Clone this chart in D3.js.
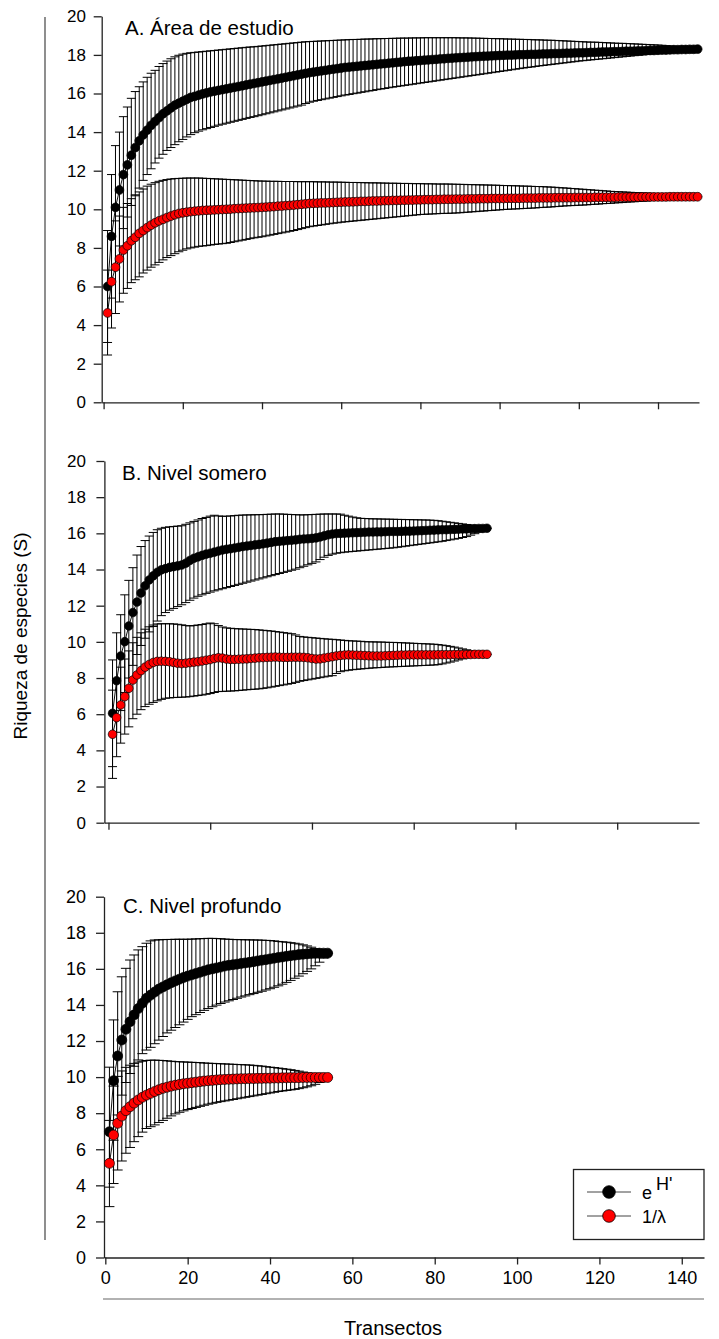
<!DOCTYPE html>
<html>
<head>
<meta charset="utf-8">
<script src="https://cdn.jsdelivr.net/npm/d3@7/dist/d3.min.js"></script>
<style>
  body { margin: 0; background: #fff; }
  text { font-family: "Liberation Sans", Arial, sans-serif; fill: #000; }
</style>
</head>
<body>
<svg id="chart" width="719" height="1339"></svg>
<script>
// ---- data (x = transect 1..n) ----
const titles = ['A. Área de estudio', 'B. Nivel somero', 'C. Nivel profundo'];
const legendLabels = ['e', '1/λ'];
const yTicks = [0, 2, 4, 6, 8, 10, 12, 14, 16, 18, 20];

// A. Área de estudio : e^H'
const areaEH = [6.0, 8.6, 10.1, 11.0, 11.8, 12.3, 12.8, 13.2, 13.55, 13.85,
  14.1, 14.35, 14.55, 14.75, 14.95, 15.1, 15.25, 15.4, 15.5, 15.6,
  15.7, 15.8, 15.85, 15.92, 15.98, 16.03, 16.08, 16.12, 16.16, 16.2,
  16.24, 16.28, 16.32, 16.36, 16.4, 16.44, 16.48, 16.52, 16.56, 16.6,
  16.64, 16.68, 16.72, 16.76, 16.8, 16.84, 16.88, 16.92, 16.96, 17.0,
  17.04, 17.08, 17.11, 17.14, 17.17, 17.2, 17.23, 17.26, 17.29, 17.32,
  17.35, 17.37, 17.39, 17.41, 17.43, 17.45, 17.47, 17.49, 17.51, 17.53,
  17.55, 17.57, 17.59, 17.61, 17.63, 17.65, 17.67, 17.68, 17.7, 17.71,
  17.73, 17.74, 17.76, 17.77, 17.79, 17.8, 17.82, 17.83, 17.85, 17.86,
  17.87, 17.88, 17.9, 17.91, 17.92, 17.93, 17.94, 17.95, 17.96, 17.97,
  17.98, 17.99, 17.99, 18.0, 18.01, 18.01, 18.02, 18.03, 18.03, 18.04,
  18.05, 18.05, 18.06, 18.07, 18.07, 18.08, 18.09, 18.09, 18.1, 18.11,
  18.11, 18.12, 18.13, 18.13, 18.14, 18.15, 18.15, 18.16, 18.17, 18.17,
  18.18, 18.19, 18.19, 18.2, 18.21, 18.21, 18.22, 18.23, 18.23, 18.24,
  18.25, 18.25, 18.26, 18.27, 18.27, 18.28, 18.28, 18.29, 18.29, 18.3];
const areaEHHi = [8.9, 11.8, 13.3, 14.0, 14.8, 15.3, 15.75, 16.1, 16.35, 16.6,
  16.84, 17.05, 17.2, 17.4, 17.55, 17.68, 17.8, 17.9, 17.98, 18.04,
  18.08, 18.11, 18.13, 18.15, 18.17, 18.19, 18.21, 18.23, 18.25, 18.27,
  18.29, 18.31, 18.33, 18.35, 18.37, 18.39, 18.41, 18.42, 18.44, 18.46,
  18.48, 18.5, 18.52, 18.54, 18.56, 18.58, 18.6, 18.62, 18.64, 18.66,
  18.68, 18.69, 18.7, 18.71, 18.72, 18.73, 18.74, 18.75, 18.76, 18.77,
  18.78, 18.79, 18.8, 18.8, 18.81, 18.82, 18.82, 18.83, 18.84, 18.84,
  18.85, 18.85, 18.86, 18.86, 18.87, 18.87, 18.87, 18.88, 18.88, 18.88,
  18.89, 18.89, 18.89, 18.89, 18.89, 18.89, 18.89, 18.89, 18.89, 18.88,
  18.88, 18.88, 18.87, 18.87, 18.86, 18.86, 18.85, 18.85, 18.84, 18.84,
  18.83, 18.82, 18.82, 18.81, 18.81, 18.8, 18.8, 18.79, 18.78, 18.78,
  18.77, 18.76, 18.76, 18.75, 18.74, 18.73, 18.72, 18.71, 18.7, 18.69,
  18.68, 18.67, 18.66, 18.66, 18.65, 18.64, 18.63, 18.62, 18.61, 18.6,
  18.6, 18.59, 18.58, 18.57, 18.56, 18.55, 18.54, 18.53, 18.52, 18.51,
  18.5, 18.48, 18.46, 18.44, 18.42, 18.4, 18.38, 18.35, 18.33, 18.3];
const areaEHLo = [3.1, 5.4, 6.9, 8.1, 9.0, 9.6, 10.2, 10.7, 11.1, 11.5,
  11.8, 12.1, 12.4, 12.65, 12.85, 13.05, 13.2, 13.35, 13.5, 13.62,
  13.75, 13.87, 13.97, 14.05, 14.12, 14.18, 14.24, 14.3, 14.36, 14.41,
  14.46, 14.51, 14.56, 14.61, 14.66, 14.71, 14.76, 14.8, 14.85, 14.9,
  14.95, 15.0, 15.05, 15.1, 15.15, 15.2, 15.25, 15.3, 15.35, 15.4,
  15.48, 15.55, 15.6, 15.64, 15.68, 15.72, 15.76, 15.8, 15.84, 15.88,
  15.92, 15.95, 15.99, 16.02, 16.06, 16.09, 16.13, 16.16, 16.2, 16.23,
  16.26, 16.3, 16.33, 16.36, 16.39, 16.42, 16.45, 16.48, 16.51, 16.54,
  16.57, 16.6, 16.63, 16.66, 16.69, 16.72, 16.75, 16.78, 16.81, 16.84,
  16.87, 16.9, 16.93, 16.96, 16.99, 17.02, 17.05, 17.08, 17.11, 17.14,
  17.17, 17.2, 17.23, 17.26, 17.29, 17.32, 17.35, 17.37, 17.4, 17.43,
  17.45, 17.48, 17.5, 17.53, 17.55, 17.58, 17.6, 17.63, 17.65, 17.68,
  17.7, 17.72, 17.74, 17.76, 17.78, 17.8, 17.82, 17.84, 17.86, 17.88,
  17.9, 17.92, 17.94, 17.96, 17.98, 18.0, 18.02, 18.04, 18.06, 18.08,
  18.1, 18.12, 18.14, 18.16, 18.18, 18.2, 18.22, 18.25, 18.27, 18.3];

// A. Área de estudio : 1/lambda
const areaInv = [4.63, 6.25, 7.0, 7.43, 7.89, 8.11, 8.37, 8.55, 8.75, 8.9,
  9.05, 9.18, 9.3, 9.4, 9.48, 9.57, 9.65, 9.72, 9.78, 9.82,
  9.85, 9.88, 9.9, 9.92, 9.94, 9.95, 9.96, 9.97, 9.98, 9.99,
  10.0, 10.01, 10.03, 10.04, 10.05, 10.06, 10.07, 10.08, 10.09, 10.1,
  10.11, 10.13, 10.14, 10.16, 10.17, 10.19, 10.2, 10.22, 10.24, 10.26,
  10.28, 10.3, 10.31, 10.32, 10.33, 10.33, 10.34, 10.35, 10.36, 10.37,
  10.38, 10.38, 10.39, 10.4, 10.41, 10.41, 10.42, 10.43, 10.43, 10.44,
  10.45, 10.45, 10.46, 10.46, 10.47, 10.47, 10.48, 10.48, 10.49, 10.49,
  10.5, 10.5, 10.5, 10.51, 10.51, 10.52, 10.52, 10.52, 10.53, 10.53,
  10.53, 10.54, 10.54, 10.54, 10.55, 10.55, 10.55, 10.56, 10.56, 10.56,
  10.56, 10.57, 10.57, 10.57, 10.57, 10.58, 10.58, 10.58, 10.58, 10.59,
  10.59, 10.59, 10.59, 10.6, 10.6, 10.6, 10.6, 10.6, 10.61, 10.61,
  10.61, 10.61, 10.61, 10.62, 10.62, 10.62, 10.62, 10.62, 10.62, 10.63,
  10.63, 10.63, 10.63, 10.63, 10.63, 10.64, 10.64, 10.64, 10.64, 10.64,
  10.64, 10.64, 10.65, 10.65, 10.65, 10.65, 10.65, 10.65, 10.65, 10.65];
const areaInvHi = [6.85, 8.65, 9.4, 9.65, 10.1, 10.3, 10.55, 10.75, 10.9, 11.05,
  11.2, 11.3, 11.38, 11.45, 11.5, 11.54, 11.57, 11.59, 11.6, 11.61,
  11.62, 11.62, 11.62, 11.62, 11.61, 11.6, 11.59, 11.58, 11.57, 11.56,
  11.55, 11.54, 11.53, 11.52, 11.51, 11.5, 11.49, 11.48, 11.47, 11.46,
  11.46, 11.45, 11.45, 11.45, 11.44, 11.44, 11.44, 11.44, 11.43, 11.43,
  11.43, 11.43, 11.43, 11.42, 11.42, 11.42, 11.41, 11.41, 11.41, 11.4,
  11.4, 11.39, 11.39, 11.39, 11.38, 11.38, 11.37, 11.37, 11.37, 11.36,
  11.36, 11.35, 11.35, 11.35, 11.34, 11.34, 11.34, 11.33, 11.33, 11.33,
  11.32, 11.32, 11.32, 11.31, 11.31, 11.31, 11.31, 11.3, 11.3, 11.29,
  11.29, 11.28, 11.28, 11.27, 11.27, 11.26, 11.26, 11.25, 11.25, 11.24,
  11.23, 11.23, 11.22, 11.22, 11.21, 11.2, 11.2, 11.19, 11.18, 11.18,
  11.17, 11.16, 11.15, 11.14, 11.12, 11.11, 11.1, 11.08, 11.07, 11.05,
  11.04, 11.02, 11.01, 10.99, 10.98, 10.96, 10.95, 10.93, 10.92, 10.91,
  10.9, 10.89, 10.88, 10.87, 10.86, 10.85, 10.84, 10.83, 10.82, 10.8,
  10.79, 10.78, 10.77, 10.76, 10.75, 10.73, 10.71, 10.69, 10.67, 10.65];
const areaInvLo = [2.45, 3.85, 4.6, 5.2, 5.65, 5.9, 6.2, 6.35, 6.5, 6.7,
  6.85, 7.0, 7.12, 7.25, 7.38, 7.5, 7.6, 7.7, 7.8, 7.88,
  7.95, 8.0, 8.04, 8.08, 8.1, 8.12, 8.15, 8.18, 8.2, 8.22,
  8.24, 8.28, 8.32, 8.36, 8.4, 8.44, 8.48, 8.52, 8.55, 8.58,
  8.62, 8.66, 8.7, 8.74, 8.78, 8.82, 8.86, 8.9, 8.95, 9.0,
  9.05, 9.1, 9.13, 9.16, 9.19, 9.22, 9.25, 9.28, 9.3, 9.33,
  9.35, 9.37, 9.39, 9.41, 9.43, 9.45, 9.47, 9.49, 9.51, 9.53,
  9.55, 9.57, 9.59, 9.61, 9.63, 9.65, 9.67, 9.69, 9.71, 9.73,
  9.74, 9.75, 9.76, 9.77, 9.78, 9.79, 9.79, 9.8, 9.81, 9.82,
  9.84, 9.85, 9.87, 9.88, 9.9, 9.91, 9.93, 9.94, 9.96, 9.97,
  9.99, 10.0, 10.01, 10.02, 10.03, 10.04, 10.05, 10.06, 10.07, 10.09,
  10.1, 10.11, 10.12, 10.14, 10.15, 10.17, 10.18, 10.19, 10.2, 10.21,
  10.22, 10.23, 10.25, 10.26, 10.27, 10.29, 10.3, 10.31, 10.33, 10.34,
  10.35, 10.37, 10.38, 10.39, 10.41, 10.42, 10.43, 10.45, 10.46, 10.47,
  10.49, 10.5, 10.52, 10.53, 10.55, 10.57, 10.59, 10.61, 10.63, 10.65];

// B. Nivel somero : e^H'
const someroEH = [6.05, 7.85, 9.22, 10.01, 10.88, 11.62, 12.2, 12.7, 13.1, 13.42,
  13.65, 13.85, 13.98, 14.05, 14.12, 14.16, 14.2, 14.25, 14.35, 14.5,
  14.62, 14.7, 14.78, 14.85, 14.9, 14.96, 15.02, 15.08, 15.12, 15.15,
  15.19, 15.23, 15.27, 15.3, 15.33, 15.36, 15.39, 15.42, 15.46, 15.5,
  15.54, 15.56, 15.58, 15.6, 15.62, 15.64, 15.67, 15.69, 15.7, 15.72,
  15.75, 15.8, 15.86, 15.92, 15.96, 15.99, 16.0, 16.01, 16.02, 16.03,
  16.04, 16.05, 16.06, 16.07, 16.07, 16.08, 16.08, 16.09, 16.1, 16.1,
  16.1, 16.11, 16.12, 16.12, 16.13, 16.14, 16.15, 16.16, 16.17, 16.18,
  16.19, 16.2, 16.2, 16.21, 16.22, 16.23, 16.24, 16.24, 16.25, 16.26,
  16.27, 16.27, 16.28];
const someroEHHi = [9.0, 10.5, 11.5, 12.6, 13.4, 14.1, 14.8, 15.27, 15.6, 15.85,
  16.05, 16.2, 16.28, 16.33, 16.36, 16.38, 16.4, 16.42, 16.5, 16.58,
  16.66, 16.74, 16.82, 16.88, 16.95, 17.0, 16.96, 16.94, 16.95, 16.96,
  16.98, 17.0, 17.01, 17.02, 17.02, 17.03, 17.03, 17.04, 17.05, 17.06,
  17.07, 17.07, 17.06, 17.05, 17.04, 17.03, 17.02, 17.02, 17.03, 17.04,
  17.05, 17.06, 17.07, 17.07, 17.07, 17.07, 17.06, 17.0, 16.95, 16.9,
  16.86, 16.83, 16.82, 16.81, 16.8, 16.8, 16.79, 16.79, 16.78, 16.78,
  16.77, 16.77, 16.76, 16.76, 16.75, 16.75, 16.74, 16.74, 16.73, 16.72,
  16.7, 16.67, 16.64, 16.61, 16.58, 16.55, 16.52, 16.49, 16.45, 16.41,
  16.37, 16.33, 16.28];
const someroEHLo = [3.1, 5.0, 6.2, 7.2, 8.0, 8.7, 9.3, 9.8, 10.2, 10.55,
  10.85, 11.15, 11.45, 11.62, 11.75, 11.85, 11.95, 12.05, 12.17, 12.3,
  12.42, 12.52, 12.6, 12.68, 12.75, 12.82, 12.88, 12.94, 13.0, 13.06,
  13.12, 13.18, 13.24, 13.3, 13.36, 13.42, 13.48, 13.54, 13.6, 13.66,
  13.72, 13.78, 13.84, 13.9, 13.96, 14.02, 14.1, 14.18, 14.26, 14.34,
  14.42, 14.55, 14.68, 14.78, 14.85, 14.9, 14.93, 14.96, 14.98, 15.0,
  15.02, 15.04, 15.06, 15.08, 15.1, 15.12, 15.14, 15.16, 15.18, 15.2,
  15.23, 15.26, 15.29, 15.32, 15.35, 15.38, 15.41, 15.44, 15.47, 15.5,
  15.53, 15.56, 15.6, 15.64, 15.68, 15.72, 15.77, 15.82, 15.9, 15.98,
  16.07, 16.17, 16.28];

// B. Nivel somero : 1/lambda
const someroInv = [4.89, 5.81, 6.51, 6.97, 7.43, 7.89, 8.17, 8.41, 8.6, 8.75,
  8.86, 8.92, 8.93, 8.92, 8.9, 8.86, 8.82, 8.8, 8.82, 8.85,
  8.88, 8.9, 8.94, 8.98, 9.02, 9.08, 9.12, 9.1, 9.05, 9.03,
  9.03, 9.04, 9.05, 9.06, 9.08, 9.1, 9.12, 9.13, 9.14, 9.15,
  9.16, 9.15, 9.14, 9.14, 9.15, 9.15, 9.15, 9.14, 9.12, 9.08,
  9.05, 9.06, 9.1, 9.14, 9.18, 9.22, 9.25, 9.27, 9.28, 9.27,
  9.26, 9.25, 9.24, 9.23, 9.22, 9.22, 9.22, 9.23, 9.24, 9.25,
  9.26, 9.27, 9.27, 9.28, 9.28, 9.28, 9.28, 9.28, 9.28, 9.28,
  9.29, 9.29, 9.29, 9.29, 9.3, 9.3, 9.3, 9.3, 9.3, 9.31,
  9.31, 9.31, 9.31];
const someroInvHi = [7.33, 7.97, 8.6, 9.05, 9.5, 9.95, 10.25, 10.5, 10.7, 10.83,
  10.93, 10.99, 11.0, 11.0, 11.0, 10.99, 10.97, 10.94, 10.9, 10.88,
  10.9, 10.93, 10.96, 11.0, 11.04, 11.0, 10.9, 10.82, 10.77, 10.75,
  10.73, 10.72, 10.71, 10.7, 10.69, 10.68, 10.66, 10.64, 10.62, 10.6,
  10.57, 10.54, 10.51, 10.48, 10.45, 10.38, 10.3, 10.27, 10.25, 10.23,
  10.21, 10.19, 10.17, 10.15, 10.14, 10.12, 10.1, 10.08, 10.06, 10.05,
  10.04, 10.03, 10.01, 10.0, 10.0, 9.99, 9.99, 9.98, 9.97, 9.97,
  9.96, 9.95, 9.94, 9.93, 9.92, 9.91, 9.9, 9.89, 9.88, 9.87,
  9.85, 9.82, 9.79, 9.75, 9.71, 9.66, 9.61, 9.56, 9.5, 9.45,
  9.4, 9.35, 9.31];
const someroInvLo = [2.45, 3.65, 4.4, 4.9, 5.3, 5.75, 6.0, 6.25, 6.42, 6.55,
  6.65, 6.74, 6.82, 6.88, 6.9, 6.92, 6.93, 6.94, 6.95, 6.97,
  7.0, 7.03, 7.06, 7.1, 7.14, 7.2, 7.25, 7.26, 7.27, 7.28,
  7.29, 7.31, 7.33, 7.35, 7.37, 7.38, 7.4, 7.43, 7.46, 7.5,
  7.54, 7.58, 7.62, 7.66, 7.7, 7.76, 7.82, 7.86, 7.9, 7.94,
  7.98, 8.02, 8.06, 8.1, 8.13, 8.25, 8.35, 8.4, 8.43, 8.46,
  8.48, 8.5, 8.52, 8.54, 8.56, 8.57, 8.58, 8.6, 8.61, 8.62,
  8.63, 8.64, 8.65, 8.66, 8.67, 8.68, 8.69, 8.7, 8.71, 8.72,
  8.74, 8.78, 8.83, 8.88, 8.94, 9.0, 9.06, 9.12, 9.17, 9.21,
  9.25, 9.28, 9.31];

// C. Nivel profundo : e^H'
const profundoEH = [6.97, 9.8, 11.17, 12.06, 12.65, 13.07, 13.45, 13.8, 14.1, 14.37,
  14.55, 14.72, 14.88, 15.0, 15.12, 15.23, 15.33, 15.43, 15.52, 15.6,
  15.67, 15.74, 15.81, 15.88, 15.95, 16.0, 16.05, 16.1, 16.16, 16.2,
  16.23, 16.26, 16.3, 16.33, 16.36, 16.4, 16.44, 16.48, 16.51, 16.55,
  16.59, 16.63, 16.66, 16.7, 16.73, 16.76, 16.79, 16.81, 16.83, 16.85,
  16.86, 16.87, 16.87, 16.87];
const profundoEHHi = [10.55, 13.17, 14.73, 15.56, 16.03, 16.49, 16.77, 17.05, 17.23, 17.42,
  17.55, 17.6, 17.61, 17.62, 17.63, 17.63, 17.64, 17.64, 17.64, 17.64,
  17.65, 17.66, 17.67, 17.68, 17.69, 17.69, 17.68, 17.67, 17.65, 17.64,
  17.63, 17.62, 17.62, 17.61, 17.61, 17.6, 17.6, 17.59, 17.58, 17.57,
  17.55, 17.52, 17.5, 17.48, 17.45, 17.42, 17.38, 17.33, 17.27, 17.2,
  17.12, 17.04, 16.95, 16.87];
const profundoEHLo = [3.9, 6.5, 7.9, 9.0, 9.7, 10.2, 10.6, 10.95, 11.3, 11.5,
  11.65, 11.85, 12.05, 12.25, 12.45, 12.6, 12.75, 12.9, 13.05, 13.2,
  13.35, 13.46, 13.58, 13.7, 13.8, 13.9, 13.99, 14.08, 14.16, 14.23,
  14.3, 14.37, 14.44, 14.5, 14.57, 14.63, 14.7, 14.76, 14.83, 14.9,
  14.98, 15.06, 15.15, 15.25, 15.36, 15.48, 15.6, 15.73, 15.86, 16.0,
  16.17, 16.37, 16.6, 16.87];

// C. Nivel profundo : 1/lambda
const profundoInv = [5.22, 6.79, 7.44, 7.84, 8.14, 8.36, 8.56, 8.73, 8.88, 9.0,
  9.1, 9.2, 9.3, 9.38, 9.44, 9.5, 9.55, 9.59, 9.63, 9.66,
  9.69, 9.72, 9.75, 9.78, 9.8, 9.82, 9.84, 9.86, 9.87, 9.88,
  9.89, 9.9, 9.91, 9.91, 9.92, 9.92, 9.93, 9.93, 9.94, 9.94,
  9.95, 9.95, 9.96, 9.96, 9.97, 9.97, 9.97, 9.98, 9.98, 9.98,
  9.98, 9.98, 9.98, 9.98];
const profundoInvHi = [7.6, 9.5, 10.04, 10.34, 10.54, 10.66, 10.76, 10.83, 10.88, 10.92,
  10.94, 10.94, 10.93, 10.92, 10.9, 10.88, 10.86, 10.85, 10.84, 10.83,
  10.82, 10.81, 10.8, 10.78, 10.77, 10.76, 10.75, 10.74, 10.73, 10.72,
  10.71, 10.7, 10.69, 10.68, 10.67, 10.65, 10.63, 10.61, 10.58, 10.55,
  10.53, 10.5, 10.47, 10.44, 10.41, 10.37, 10.33, 10.28, 10.23, 10.18,
  10.13, 10.08, 10.03, 9.98];
const profundoInvLo = [2.82, 4.1, 4.85, 5.35, 5.78, 6.1, 6.42, 6.7, 6.95, 7.15,
  7.25, 7.35, 7.48, 7.6, 7.72, 7.85, 7.96, 8.05, 8.13, 8.2,
  8.26, 8.32, 8.38, 8.44, 8.5, 8.55, 8.6, 8.64, 8.68, 8.72,
  8.76, 8.8, 8.84, 8.88, 8.92, 8.96, 9.0, 9.04, 9.08, 9.12,
  9.16, 9.2, 9.23, 9.26, 9.29, 9.32, 9.36, 9.41, 9.46, 9.52,
  9.6, 9.7, 9.83, 9.98];

// ---- layout ----
const svg = d3.select('#chart');

const panels = [
  { title: titles[0], xDomain: [-0.48, 150.35], xRange: [101.7, 699], yRange: [402.3, 16.3],
    xTicks: [0, 20, 40, 60, 80, 100, 120, 140], showX: false, tickFont: 17, r: 4.4, cap: 4.5,
    titlePos: [125, 35],
    series: [
      { mean: areaEH, hi: areaEHHi, lo: areaEHLo, fill: '#000' },
      { mean: areaInv, hi: areaInvHi, lo: areaInvLo, fill: '#ff0000' }
    ] },
  { title: titles[1], xDomain: [-1.0, 145.1], xRange: [104.4, 699], yRange: [822.7, 461],
    xTicks: [0, 25, 50, 75, 100, 125], showX: false, tickFont: 17, r: 4.3, cap: 4.5,
    titlePos: [122, 480],
    series: [
      { mean: someroEH, hi: someroEHHi, lo: someroEHLo, fill: '#000' },
      { mean: someroInv, hi: someroInvHi, lo: someroInvLo, fill: '#ff0000' }
    ] },
  { title: titles[2], xDomain: [-0.32, 145.4], xRange: [104, 704], yRange: [1257.5, 896.7],
    xTicks: [0, 20, 40, 60, 80, 100, 120, 140], showX: true, tickFont: 18, r: 5, cap: 5,
    titlePos: [123, 913],
    series: [
      { mean: profundoEH, hi: profundoEHHi, lo: profundoEHLo, fill: '#000' },
      { mean: profundoInv, hi: profundoInvHi, lo: profundoInvLo, fill: '#ff0000' }
    ] }
];

panels.forEach(p => {
  const x = d3.scaleLinear().domain(p.xDomain).range(p.xRange);
  const y = d3.scaleLinear().domain([0, 20]).range(p.yRange);
  const g = svg.append('g');

  const xAxis = d3.axisBottom(x).tickValues(p.xTicks).tickSize(7).tickSizeOuter(0).tickPadding(7)
    .tickFormat(p.showX ? d3.format('d') : () => '');
  const gx = g.append('g').attr('transform', `translate(0,${p.yRange[0]})`).call(xAxis);
  gx.selectAll('text').style('font-size', '18px');

  const gy = g.append('g').attr('transform', `translate(${p.xRange[0]},0)`)
    .call(d3.axisLeft(y).tickValues(yTicks).tickSize(8).tickSizeOuter(0).tickPadding(p.xRange[0] - 94));
  gy.selectAll('text').style('font-size', p.tickFont + 'px');

  g.selectAll('.domain, .tick line').attr('stroke', '#222').attr('stroke-width', 1.3);

  g.append('text').attr('x', p.titlePos[0]).attr('y', p.titlePos[1])
    .style('font-size', '20.5px').text(p.title);

  p.series.forEach(s => {
    const pts = s.mean.map((v, i) => ({ t: i + 1, v: v, hi: s.hi[i], lo: s.lo[i] }));
    const sg = g.append('g');

    const bars = sg.append('g').attr('stroke', '#000').attr('stroke-width', 1);
    bars.selectAll('line.bar').data(pts).enter().append('line')
      .attr('x1', d => x(d.t)).attr('x2', d => x(d.t))
      .attr('y1', d => y(d.hi)).attr('y2', d => y(d.lo));
    bars.selectAll('line.capHi').data(pts).enter().append('line')
      .attr('x1', d => x(d.t) - p.cap).attr('x2', d => x(d.t) + p.cap)
      .attr('y1', d => y(d.hi)).attr('y2', d => y(d.hi));
    bars.selectAll('line.capLo').data(pts).enter().append('line')
      .attr('x1', d => x(d.t) - p.cap).attr('x2', d => x(d.t) + p.cap)
      .attr('y1', d => y(d.lo)).attr('y2', d => y(d.lo));

    sg.append('path').datum(pts)
      .attr('fill', 'none').attr('stroke', '#111').attr('stroke-width', 1)
      .attr('d', d3.line().x(d => x(d.t)).y(d => y(d.v)));

    sg.selectAll('circle').data(pts).enter().append('circle')
      .attr('cx', d => x(d.t)).attr('cy', d => y(d.v)).attr('r', p.r)
      .attr('fill', s.fill).attr('stroke', '#000').attr('stroke-width', 0.7);
  });
});

// outer frame lines and axis titles
svg.append('line').attr('x1', 45).attr('x2', 45).attr('y1', 17).attr('y2', 1240)
  .attr('stroke', '#444').attr('stroke-width', 1.2);
svg.append('line').attr('x1', 103).attr('x2', 704).attr('y1', 1299).attr('y2', 1299)
  .attr('stroke', '#666').attr('stroke-width', 1.2);

svg.append('text').attr('transform', 'translate(27,636) rotate(-90)')
  .attr('text-anchor', 'middle').style('font-size', '19px').text('Riqueza de especies (S)');
svg.append('text').attr('x', 393).attr('y', 1335)
  .attr('text-anchor', 'middle').style('font-size', '20px').text('Transectos');

// legend
const lg = svg.append('g');
lg.append('rect').attr('x', 573.5).attr('y', 1169.5).attr('width', 130.5).attr('height', 70)
  .attr('fill', '#fff').attr('stroke', '#222').attr('stroke-width', 1.3);
const legendFill = ['#000', '#ff0000'];
legendLabels.forEach((lab, i) => {
  const ly = 1192 + i * 24;
  lg.append('line').attr('x1', 587).attr('x2', 631).attr('y1', ly).attr('y2', ly)
    .attr('stroke', '#444').attr('stroke-width', 1);
  lg.append('circle').attr('cx', 609).attr('cy', ly).attr('r', 6.3)
    .attr('fill', legendFill[i]).attr('stroke', '#000').attr('stroke-width', 0.8);
  lg.append('text').attr('x', 642).attr('y', ly + 7).style('font-size', '18px').text(lab);
});
lg.append('text').attr('x', 656).attr('y', 1190).style('font-size', '18px').text("H'");
</script>
</body>
</html>
